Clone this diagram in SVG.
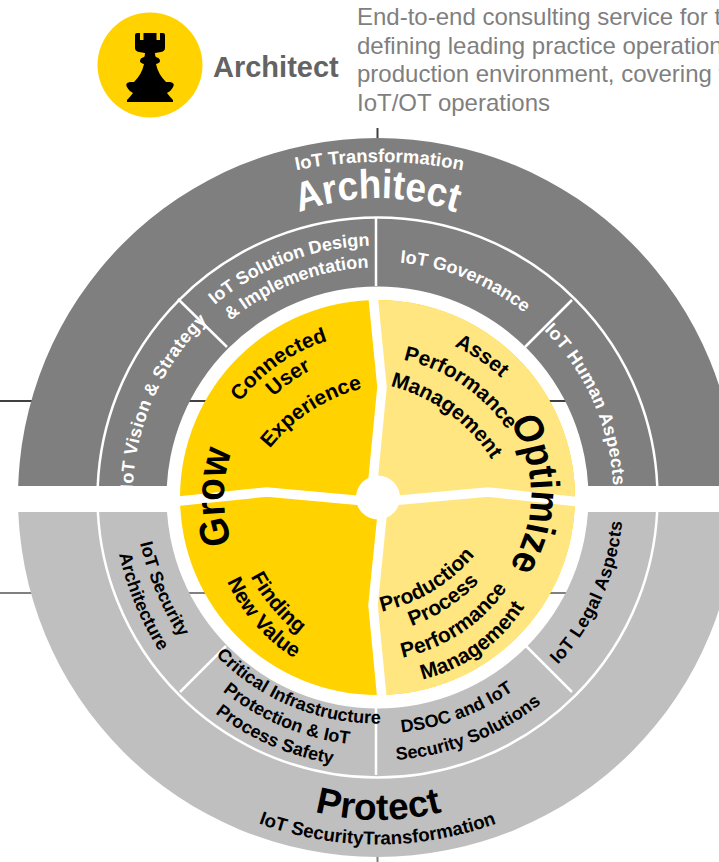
<svg xmlns="http://www.w3.org/2000/svg" width="719" height="862" viewBox="0 0 719 862">
<style>
text{font-family:"Liberation Sans",Arial,sans-serif;font-weight:bold}
.w{fill:#fff}.k{fill:#000}
.s{font-size:18px}
.sp{font-size:18px;letter-spacing:.4px}
.i{font-size:21px}
.b{font-size:38px}
.sw{fill:none;stroke:#fff;stroke-width:2.5}
.hd{font-weight:normal;font-size:24px;fill:#7f7f7f}
</style>
<defs>
<clipPath id="ct"><rect x="0" y="0" width="719" height="486"/></clipPath>
<clipPath id="cb"><rect x="0" y="512" width="719" height="350"/></clipPath>
<path id="o420" d="M-420,420A420,420 0 0 1 420,420"/>
<path id="o240" d="M-240,240A240,240 0 0 1 240,240"/>
<path id="o252" d="M-252,252A252,252 0 0 1 252,252"/>
<path id="o230" d="M-230,230A230,230 0 0 1 230,230"/>
<path id="o236" d="M-236,236A236,236 0 0 1 236,236"/>
<path id="o245" d="M-245,245A245,245 0 0 1 245,245"/>
<path id="o170" d="M-170,170A170,170 0 0 1 170,170"/>
<path id="o154" d="M-154,154A154,154 0 0 1 154,154"/>
<path id="i170" d="M-170,-170A170,170 0 0 0 170,-170"/>
<path id="i300" d="M-300,-300A300,300 0 0 0 300,-300"/>
<path id="i226" d="M-226,-226A226,226 0 0 0 226,-226"/>
<path id="i248" d="M-248,-248A248,248 0 0 0 248,-248"/>
<path id="i270" d="M-270,-270A270,270 0 0 0 270,-270"/>
<path id="i236" d="M-236,-236A236,236 0 0 0 236,-236"/>
<path id="i263" d="M-263,-263A263,263 0 0 0 263,-263"/>
<path id="i246" d="M-246,-246A246,246 0 0 0 246,-246"/>
<path id="i250" d="M-250,-250A250,250 0 0 0 250,-250"/>
<path id="i346" d="M-346,-346A346,346 0 0 0 346,-346"/>
</defs>

<g id="connectors">
<path d="M0,401H719M377.500,128V138" fill="none" stroke="#404040" stroke-width="2"/>
<path d="M0,593H719M377.500,857V862" fill="none" stroke="#808080" stroke-width="2"/>
</g>

<g id="legend">
<ellipse cx="150" cy="65" rx="52.500" ry="52.500" fill="#ffd200"/>
<path class="k" d="M135,35Q135,33 137,33H140V40H143.500V33H156.500V40H160V33H163Q165,33 165,35V48Q165,51 161,52L155,53Q155,56 156,57Q160,58 160,61Q160,63 156,64Q158,74 166,82H170Q176,83 172.500,88Q171,91 167,93Q170,97 173,100V102H127V100Q130,97 133,93Q129,91 127.500,88Q124,83 130,82H134Q142,74 144,64Q140,63 140,61Q140,58 144,57Q145,56 145,53L139,52Q135,51 135,48Z"/>
<text x="213" y="77" font-size="29" fill="#636363">Architect</text>
<text class="hd" x="357" y="25">End-to-end consulting service for t</text>
<text class="hd" x="357" y="53.500">defining leading practice operation</text>
<text class="hd" x="357" y="82">production environment, covering t</text>
<text class="hd" x="357" y="111">IoT/OT operations</text>
</g>

<g id="architect-ring" clip-path="url(#ct)">
<path fill="#7f7f7f" d="M18,497.500A359.500,359.500 0 0 1 737,497.500H588.500A211,211 0 0 0 166.500,497.500Z"/>
<path class="sw" d="M97.500,497.500A280,280 0 0 1 657.500,497.500"/>
<path class="sw" d="M376,217V286M178,299L227,347M572,300L525,347"/>
<text class="w" font-size="18.500" transform="translate(379.500 162)"><textPath href="#o420" startOffset="50%" text-anchor="middle">IoT Transformation</textPath></text>
<text class="w" font-size="37" transform="translate(377.500 198) scale(1 1.1)"><textPath href="#o240" startOffset="50%" text-anchor="middle">Architect</textPath></text>
<g id="n-solution"><text class="w s" transform="rotate(-21 377.500 497.500) translate(377.500 245.500)"><textPath href="#o252" startOffset="50%" text-anchor="middle">IoT Solution Design</textPath></text>
<text class="w s" transform="rotate(-21 377.500 497.500) translate(377.500 267.500)"><textPath href="#o230" startOffset="50%" text-anchor="middle">&amp; Implementation</textPath></text></g>
<g id="n-governance"><text class="w s" transform="rotate(22 377.500 497.500) translate(377.500 261.500)"><textPath href="#o236" startOffset="50%" text-anchor="middle">IoT Governance</textPath></text></g>
<g id="n-human"><text class="w sp" transform="rotate(66 377.500 497.500) translate(377.500 261.500)"><textPath href="#o236" startOffset="50%" text-anchor="middle">IoT Human Aspects</textPath></text></g>
<g id="n-vision"><text class="w sp" transform="rotate(-66 377.500 497.500) translate(377.500 252.500)"><textPath href="#o245" startOffset="50%" text-anchor="middle">IoT Vision &amp; Strategy</textPath></text></g>
</g>

<g id="protect-ring" clip-path="url(#cb)">
<path fill="#bfbfbf" d="M18,497.500A359.500,359.500 0 0 0 737,497.500H588.500A211,211 0 0 1 166.500,497.500Z"/>
<path class="sw" d="M97.500,497.500A280,280 0 0 0 657.500,497.500"/>
<path class="sw" d="M376,707V775M180,692L226,646M572,692L525,645"/>
<g id="n-arch"><text class="k s" transform="translate(156 592) rotate(67)"><textPath href="#i300" startOffset="50%" text-anchor="middle">IoT Security</textPath></text>
<text class="k s" transform="translate(135 604.500) rotate(67.500)"><textPath href="#i300" startOffset="50%" text-anchor="middle">Architecture</textPath></text></g>
<g id="n-critical"><text class="k s" transform="rotate(22.400 377.500 497.500) translate(377.500 723.500)"><textPath href="#i226" startOffset="50%" text-anchor="middle">Critical Infrastructure</textPath></text>
<text class="k s" transform="rotate(22.600 377.500 497.500) translate(377.500 745.500)"><textPath href="#i248" startOffset="50%" text-anchor="middle">Protection &amp; IoT</textPath></text>
<text class="k s" transform="rotate(23.300 377.500 497.500) translate(377.500 767.500)"><textPath href="#i270" startOffset="50%" text-anchor="middle">Process Safety</textPath></text></g>
<g id="n-dsoc"><text class="k s" transform="rotate(-20.500 377.500 497.500) translate(377.500 733.500)"><textPath href="#i236" startOffset="50%" text-anchor="middle">DSOC and IoT</textPath></text>
<text class="k s" transform="rotate(-21.300 377.500 497.500) translate(377.500 760.500)"><textPath href="#i263" startOffset="50%" text-anchor="middle">Security Solutions</textPath></text></g>
<g id="n-legal"><text class="k sp" transform="rotate(-65.800 377.500 497.500) translate(377.500 743.500)"><textPath href="#i246" startOffset="50%" text-anchor="middle">IoT Legal Aspects</textPath></text></g>
<text class="k" font-size="37" letter-spacing=".3" transform="translate(378.500 820)"><textPath href="#i250" startOffset="50%" text-anchor="middle">Protect</textPath></text>
<text class="k" font-size="18.700" transform="translate(377.500 844.500)"><textPath href="#i346" startOffset="50%" text-anchor="middle">IoT SecurityTransformation</textPath></text>
</g>

<g id="core">
<circle cx="377.500" cy="497.500" r="197.500" fill="#ffd200"/>
<path fill="#ffe680" d="M373,300L382,387L373,478L378,498L382,520L373,605L382,695A197.500,197.500 0 0 0 373,300Z"/>
<path fill="none" stroke="#fff" stroke-width="9.500" d="M373,296L382,387L373,480M382,516L373,605L382,699M175,501.500L267,492L360,500.500M395,500.500L488,492L580,502"/>
<circle cx="378" cy="497.500" r="22" fill="#fff"/>
</g>

<g id="n-grow">
<text class="k i" transform="translate(279 364.500) rotate(-35)"><textPath href="#o170" startOffset="50%" text-anchor="middle">Connected</textPath></text>
<text class="k i" transform="translate(291.500 382) rotate(-35.500)"><textPath href="#o170" startOffset="50%" text-anchor="middle">User</textPath></text>
<text class="k i" transform="translate(311 411) rotate(-33)"><textPath href="#o170" startOffset="50%" text-anchor="middle">Experience</textPath></text>
<text class="k i" transform="translate(271.500 608) rotate(50)"><textPath href="#i170" startOffset="50%" text-anchor="middle">Finding</textPath></text>
<text class="k i" transform="translate(255 625) rotate(48.700)"><textPath href="#i170" startOffset="50%" text-anchor="middle">New Value</textPath></text>
<text class="k b" transform="translate(224 497) rotate(-90) scale(.97 1.08)"><textPath href="#o154" startOffset="50%" text-anchor="middle">Grow</textPath></text>
</g>
<g id="n-optimize">
<text class="k i" transform="translate(479 360) rotate(34)"><textPath href="#o170" startOffset="50%" text-anchor="middle">Asset</textPath></text>
<text class="k i" transform="translate(462 385) rotate(34)"><textPath href="#o170" startOffset="50%" text-anchor="middle">Performance</textPath></text>
<text class="k i" transform="translate(448 413) rotate(36)"><textPath href="#o170" startOffset="50%" text-anchor="middle">Management</textPath></text>
<text class="k i" transform="translate(433 591) rotate(-31.300)"><textPath href="#i170" startOffset="50%" text-anchor="middle">Production</textPath></text>
<text class="k i" transform="translate(448 608) rotate(-33.300)"><textPath href="#i170" startOffset="50%" text-anchor="middle">Process</textPath></text>
<text class="k i" transform="translate(461.500 633) rotate(-33.400)"><textPath href="#i170" startOffset="50%" text-anchor="middle">Performance</textPath></text>
<text class="k i" transform="translate(480.500 653) rotate(-35.500)"><textPath href="#i170" startOffset="50%" text-anchor="middle">Management</textPath></text>
<text class="k b" transform="translate(531 494) rotate(90) scale(.95 1.08)"><textPath href="#o154" startOffset="50%" text-anchor="middle">Optimize</textPath></text>
</g>
</svg>
